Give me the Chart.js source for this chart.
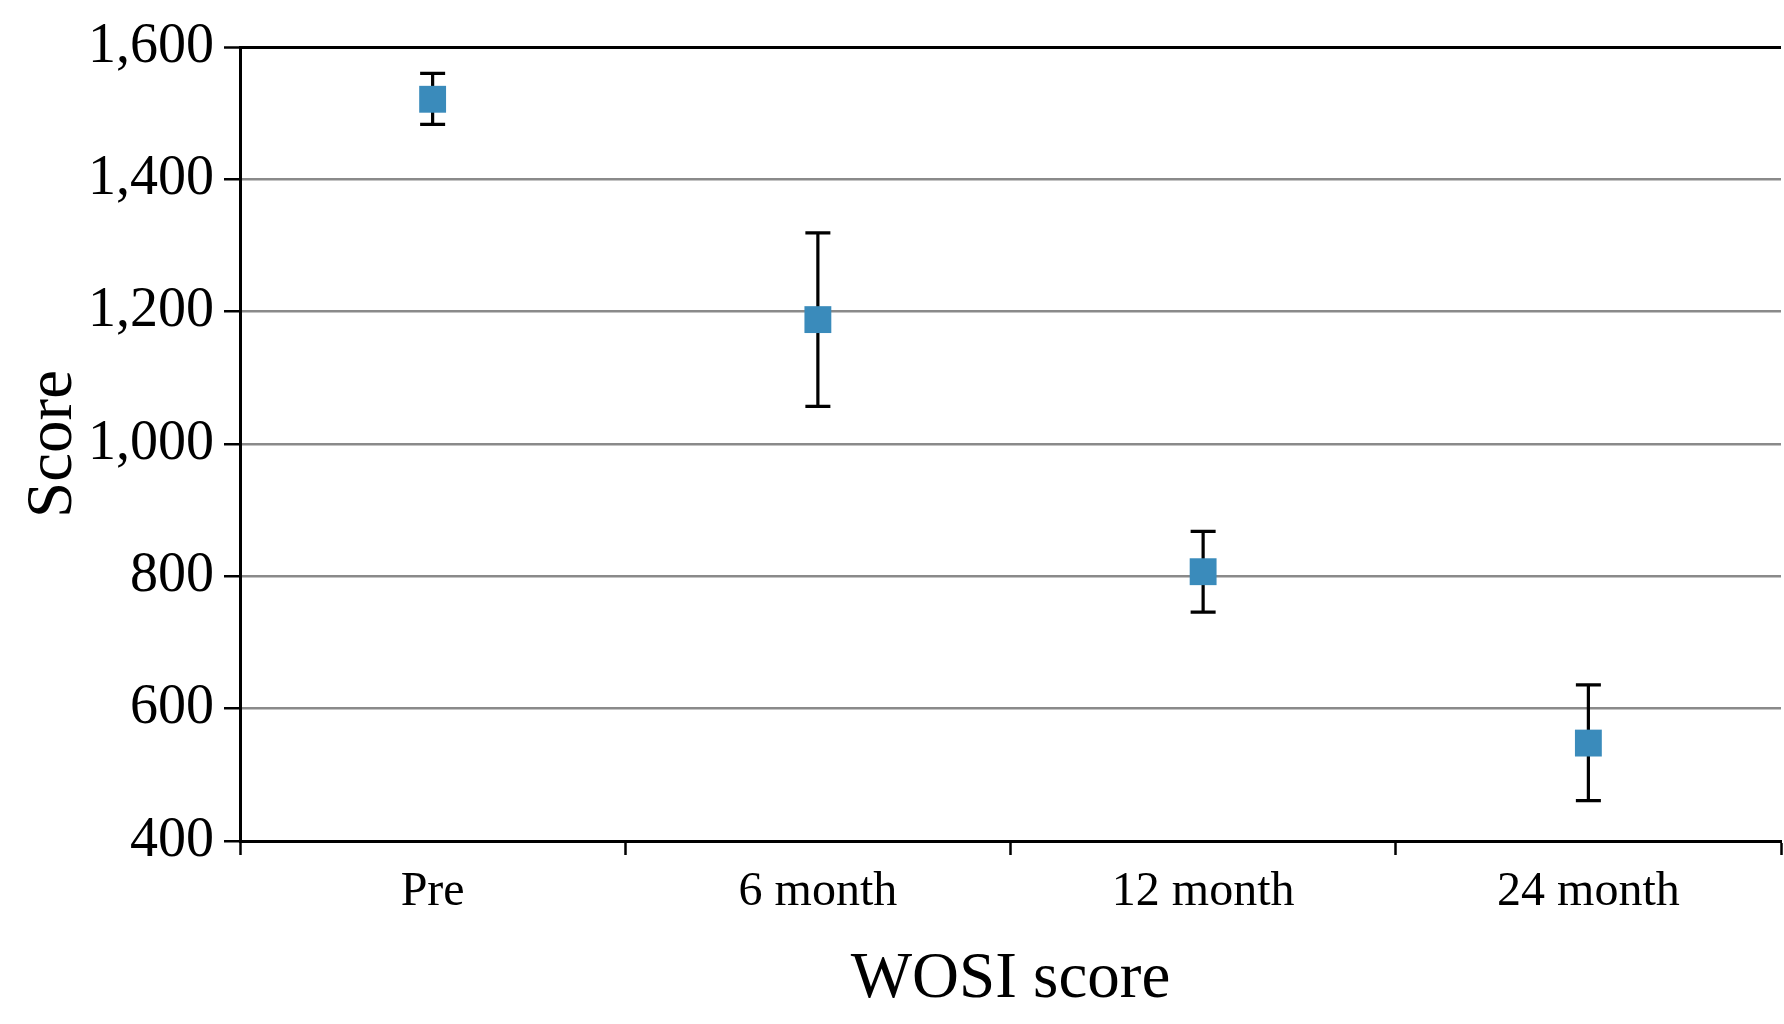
<!DOCTYPE html>
<html>
<head>
<meta charset="utf-8">
<script src="https://cdn.jsdelivr.net/npm/chart.js@4"></script>
<style>
  html, body { margin: 0; padding: 0; background: #ffffff; }
  #wrap { width: 1784px; height: 1024px; }
</style>
</head>
<body>
<div id="wrap"><canvas id="c" width="1784" height="1024"></canvas></div>
<script>
const categories = ['Pre', '6 month', '12 month', '24 month'];
const meanScores = [1521, 1188, 807, 548];
const errorUpper = [39, 131, 61, 88];
const errorLower = [38, 131, 61, 87];
const yTicks = [400, 600, 800, 1000, 1200, 1400, 1600];

const serif = "'Liberation Serif', 'DejaVu Serif', serif";

const errorBars = {
  id: 'errorBars',
  beforeDatasetsDraw(chart) {
    const ctx = chart.ctx;
    const xs = chart.scales.x, ys = chart.scales.y;
    ctx.save();
    ctx.strokeStyle = '#000000';
    ctx.lineWidth = 3.2;
    const half = 12.5;
    meanScores.forEach((m, i) => {
      const x = xs.getPixelForValue(i);
      const yt = ys.getPixelForValue(m + errorUpper[i]);
      const yb = ys.getPixelForValue(m - errorLower[i]);
      ctx.beginPath();
      ctx.moveTo(x, yt); ctx.lineTo(x, yb);
      ctx.moveTo(x - half, yt); ctx.lineTo(x + half, yt);
      ctx.moveTo(x - half, yb); ctx.lineTo(x + half, yb);
      ctx.stroke();
    });
    ctx.restore();
  }
};

new Chart(document.getElementById('c'), {
  type: 'line',
  data: {
    labels: categories,
    datasets: [{
      data: meanScores,
      showLine: false,
      pointStyle: 'rect',
      pointRadius: 19,
      pointHoverRadius: 19,
      pointBackgroundColor: '#3a8bbb',
      pointBorderColor: '#3a8bbb',
      pointBorderWidth: 0
    }]
  },
  options: {
    responsive: false,
    animation: false,
    devicePixelRatio: 1,
    layout: { autoPadding: false, padding: { top: 47, right: 3, left: 0, bottom: 0 } },
    plugins: { legend: { display: false }, tooltip: { enabled: false } },
    scales: {
      x: {
        type: 'category',
        offset: true,
        afterFit: s => { s.height = 183; s.paddingLeft = 0; s.paddingRight = 0; },
        grid: {
          offset: true,
          drawOnChartArea: false,
          drawTicks: true,
          tickLength: 14,
          tickColor: '#000000',
          tickWidth: 2.5
        },
        border: { display: true, color: '#000000', width: 3 },
        ticks: {
          color: '#000000',
          font: { family: serif, size: 48 },
          padding: 9,
          maxRotation: 0
        },
        title: {
          display: true,
          text: 'WOSI score',
          color: '#000000',
          font: { family: serif, size: 65 },
          padding: { top: 0, bottom: 5 }
        }
      },
      y: {
        min: 400,
        max: 1600,
        afterFit: s => { s.width = 240; },
        afterBuildTicks: s => { s.ticks = yTicks.map(v => ({ value: v })); },
        grid: {
          color: c => (c.tick && c.tick.value === 1600) ? '#000000' : '#8a8a8a',
          lineWidth: c => (c.tick && c.tick.value === 1600) ? 3 : 2.5,
          drawTicks: true,
          tickLength: 16,
          tickColor: '#000000',
          tickWidth: 2.5
        },
        border: { display: true, color: '#000000', width: 3 },
        ticks: {
          color: '#000000',
          font: { family: serif, size: 56 },
          padding: 10,
          callback: v => Number(v).toLocaleString('en-US')
        },
        title: {
          display: true,
          text: 'Score',
          color: '#000000',
          font: { family: serif, size: 65 },
          padding: { top: 15, bottom: 0 }
        }
      }
    }
  },
  plugins: [errorBars]
});
</script>
</body>
</html>
